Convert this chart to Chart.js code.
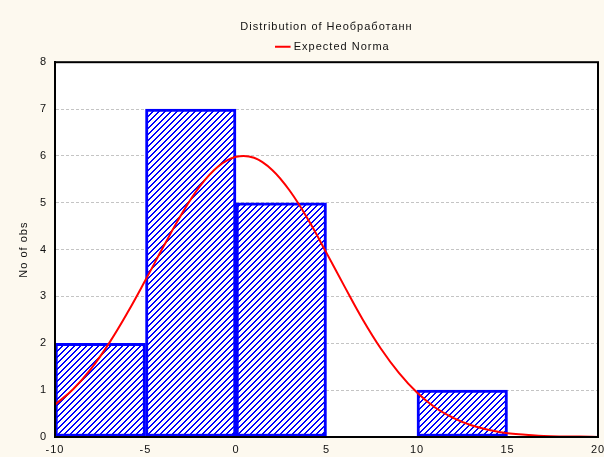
<!DOCTYPE html>
<html>
<head>
<meta charset="utf-8">
<script src="https://cdn.jsdelivr.net/npm/chart.js@4.4.1/dist/chart.umd.min.js"></script>
<style>
  html, body { margin: 0; padding: 0; background: #fdf9ef; }
  #wrap { width: 604px; height: 457px; }
</style>
</head>
<body>
<div id="wrap"><canvas id="hist"></canvas></div>
<script>
// ── Data ──
const binCenters = [-7.5, -2.5, 2.5, 7.5, 12.5, 17.5];
const binCounts = [2, 7, 5, 0, 1, 0];

const curveX = [-10, -9, -8, -7, -6, -5, -4, -3, -2, -1, 0, 1, 2, 3, 4, 5, 6, 7, 8, 9, 10,
  11, 12, 13, 14, 15, 16, 17, 18, 19, 20];
const curveY = [0.69, 1.02, 1.46, 2.01, 2.65, 3.35, 4.07, 4.76, 5.35, 5.77, 5.98, 5.96, 5.70,
  5.24, 4.63, 3.93, 3.21, 2.51, 1.89, 1.37, 0.95, 0.63, 0.41, 0.25, 0.15, 0.08, 0.05, 0.02,
  0.01, 0.01, 0.0];

const xTicks = [-10, -5, 0, 5, 10, 15, 20];
const yTicks = [0, 1, 2, 3, 4, 5, 6, 7, 8];

const FONT = "'Liberation Sans', Arial, sans-serif";

// ── Hatch pattern for the bars ("/" diagonals, 2px thick) ──
function makeHatch() {
  const c = document.createElement('canvas');
  c.width = 6; c.height = 6;
  const g = c.getContext('2d');
  g.fillStyle = '#ffffff';
  g.fillRect(0, 0, 6, 6);
  g.fillStyle = '#0000ff';
  for (let x = 0; x < 6; x++) {
    g.fillRect(x, 5 - x, 1, 1);
    g.fillRect(x, (6 - x) % 6, 1, 1);
  }
  return g.createPattern(c, 'repeat');
}

// Cream page, white plot, black frame, wide-ish text spacing
const framePlugin = {
  id: 'frame',
  beforeDraw(chart) {
    const { ctx, chartArea: a } = chart;
    ctx.letterSpacing = '1px';
    ctx.save();
    ctx.fillStyle = '#fdf9ef';
    ctx.fillRect(0, 0, chart.width, chart.height);
    ctx.fillStyle = '#ffffff';
    ctx.fillRect(a.left, a.top, a.right - a.left, a.bottom - a.top);
    ctx.restore();
  },
  afterDraw(chart) {
    const { ctx, chartArea: a } = chart;
    ctx.save();
    ctx.strokeStyle = '#000';
    ctx.lineWidth = 2;
    ctx.strokeRect(a.left, a.top, a.right - a.left, a.bottom - a.top);
    ctx.restore();
  }
};

new Chart(document.getElementById('hist'), {
  data: {
    datasets: [
      {
        type: 'line',
        label: 'Expected Norma',
        data: curveX.map((x, i) => ({ x, y: curveY[i] })),
        borderColor: '#ff0000',
        borderWidth: 2,
        pointRadius: 0,
        tension: 0.4,
        fill: false,
        order: 0
      },
      {
        type: 'bar',
        label: 'Counts',
        data: binCenters.map((x, i) => ({ x, y: binCounts[i] })),
        backgroundColor: makeHatch(),
        borderColor: '#0000ff',
        borderWidth: 3,
        borderSkipped: false,
        barPercentage: 1,
        categoryPercentage: 1,
        grouped: false,
        order: 1
      }
    ]
  },
  options: {
    responsive: true,
    maintainAspectRatio: false,
    animation: false,
    layout: { padding: { left: 0, right: 6, top: 0, bottom: 0 } },
    plugins: {
      title: {
        display: true,
        fullSize: false,
        text: 'Distribution of Необработанн',
        color: '#111',
        font: { size: 11, family: FONT, weight: 'normal' },
        padding: { top: 20, bottom: 2 }
      },
      legend: {
        display: true,
        fullSize: false,
        labels: {
          filter: item => item.text === 'Expected Norma',
          usePointStyle: true,
          pointStyle: 'line',
          boxWidth: 18,
          color: '#111',
          font: { size: 11, family: FONT },
          padding: 6
        }
      },
      tooltip: { enabled: false }
    },
    scales: {
      x: {
        type: 'linear',
        offset: false,
        min: -10,
        max: 20,
        afterBuildTicks: s => { s.ticks = xTicks.map(v => ({ value: v })); },
        afterFit: s => { s.height = 20; s.paddingLeft = 0; s.paddingRight = 0; },
        grid: { display: false, drawTicks: false, offset: false },
        border: { display: true, color: '#000', width: 2 },
        ticks: { color: '#111', font: { size: 11, family: FONT }, padding: 6, maxRotation: 0 }
      },
      y: {
        min: 0,
        max: 8,
        afterBuildTicks: s => { s.ticks = yTicks.map(v => ({ value: v })); },
        afterFit: s => { s.width = 55; },
        title: {
          display: true,
          text: 'No of obs',
          color: '#111',
          font: { size: 11, family: FONT },
          padding: { top: 17, bottom: 0 }
        },
        grid: {
          color: '#c4c4c4',
          lineWidth: 1,
          drawTicks: false
        },
        border: { display: true, color: '#000', width: 2, dash: [3, 2] },
        ticks: { color: '#111', font: { size: 11, family: FONT }, padding: 8 }
      }
    }
  },
  plugins: [framePlugin]
});
</script>
</body>
</html>
